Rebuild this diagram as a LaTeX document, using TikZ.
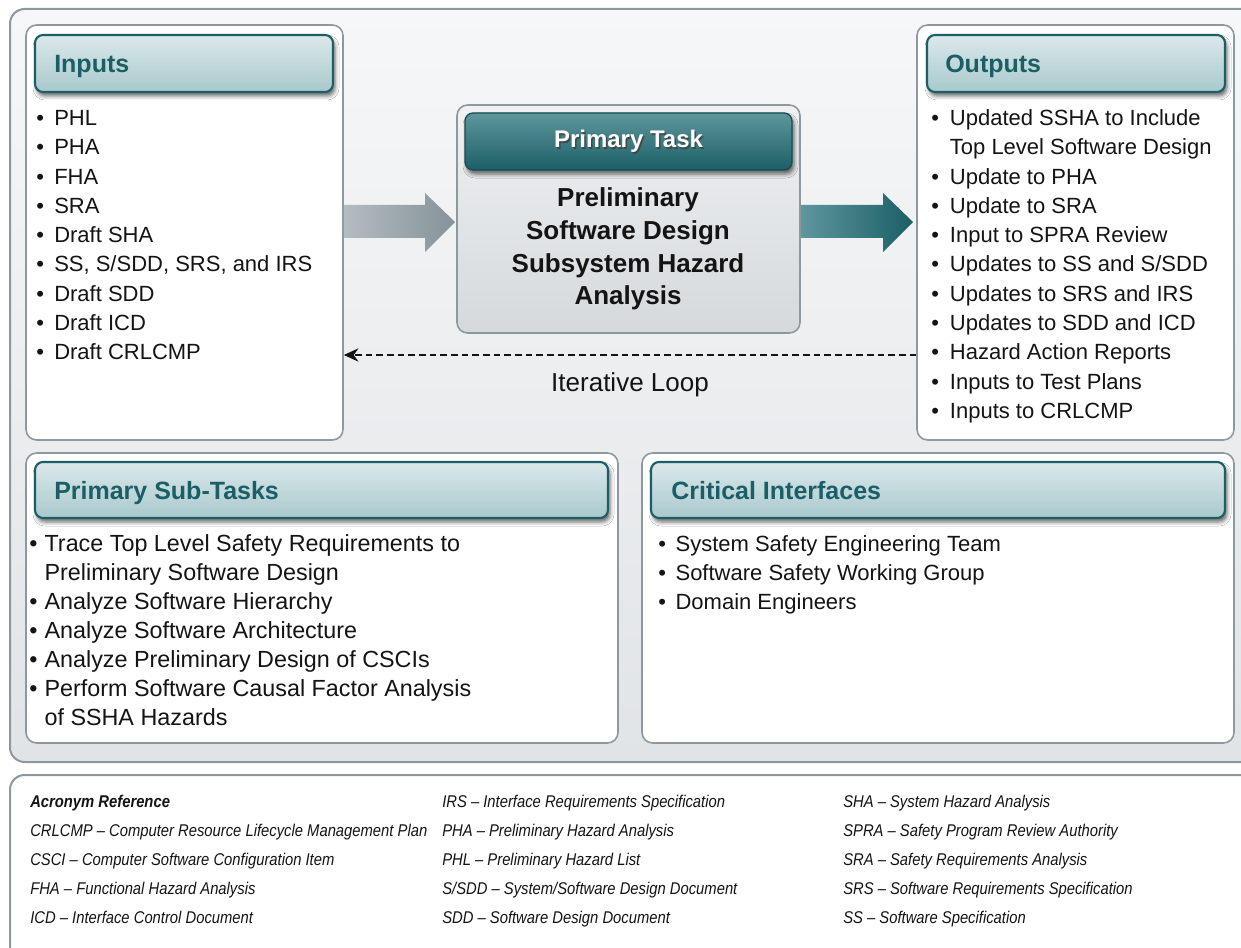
\documentclass[tikz,border=0pt]{standalone}
\usepackage{fontspec}
\setmainfont{Liberation Sans}
\newfontfamily\AcrFamily[FakeStretch=0.87]{Liberation Sans}
\usetikzlibrary{arrows.meta,calc,positioning,fit,shadows.blur}

\definecolor{frameGray}{HTML}{8C979E}
\definecolor{panelGray}{HTML}{8E999F}
\definecolor{bgTop}{HTML}{F6F7F8}
\definecolor{bgBot}{HTML}{E1E4E7}
\definecolor{tabTop}{HTML}{DCE8EA}
\definecolor{tabBot}{HTML}{A8C9CD}
\definecolor{tealDark}{HTML}{1B5F66}
\definecolor{tealMid}{HTML}{5E979C}
\definecolor{taskTop}{HTML}{EFF1F2}
\definecolor{taskBot}{HTML}{D5D9DC}
\definecolor{arrowLight}{HTML}{B3BCC1}
\definecolor{arrowDark}{HTML}{85939A}
\definecolor{ink}{HTML}{141414}

\newcommand{\BodyFont}{\fontsize{16.5}{21.94}\selectfont}
\newcommand{\SubFont}{\fontsize{17.5}{21.94}\selectfont}
\newcommand{\TabFont}{\fontsize{18.75}{22}\selectfont\bfseries}
\newcommand{\TaskFont}{\fontsize{19.5}{24.6}\selectfont\bfseries}
\newcommand{\LoopFont}{\fontsize{19.5}{22}\selectfont}
\newcommand{\AcrFont}{\AcrFamily\itshape\fontsize{12.75}{15}\selectfont}
\newcommand{\Bul}[1]{\makebox[#1][l]{\textbullet}}

\tikzset{
  frame/.style={draw=frameGray, line width=1.5pt, rounded corners=11pt,
    top color=bgTop, bottom color=bgBot},
  panel/.style={draw=panelGray, line width=1.2pt, rounded corners=8pt,
    fill=white, inner sep=0pt},
  tab/.style={draw=tealDark, line width=1.6pt, rounded corners=6pt,
    top color=tabTop, bottom color=tabBot, inner sep=0pt,
    blur shadow={shadow xshift=1.5pt, shadow yshift=-3pt,
      shadow blur radius=3pt, shadow opacity=60}},
  tabtext/.style={font=\TabFont, text=tealDark, anchor=base west, inner sep=0pt},
  item/.style={font=\BodyFont, text=ink, anchor=base west, align=left, inner sep=0pt},
  acr/.style={font=\AcrFont, text=ink, anchor=base west, inner sep=0pt},
  taskbox/.style={draw=panelGray, line width=1.2pt, rounded corners=8pt,
    top color=taskTop, bottom color=taskBot, inner sep=0pt},
  tasktab/.style={draw=tealDark!80!black, line width=1pt, rounded corners=6pt,
    top color=tealMid, bottom color=tealDark, inner sep=0pt,
    blur shadow={shadow xshift=1.5pt, shadow yshift=-3pt,
      shadow blur radius=3pt, shadow opacity=60}},
  loopline/.style={ink, line width=1.1pt, dash pattern=on 5pt off 3pt,
    -{Stealth[length=11pt,width=10pt]}},
}

\begin{document}
\begin{tikzpicture}[x=0.75pt,y=-0.75pt]
  \useasboundingbox (0,0) rectangle (1241,948);
  \clip (0,0) rectangle (1241,948);

  % Frames
  \draw[frame] (10,9) rectangle (1258,762);
  \draw[frame, top color=white, bottom color=white] (10,775) rectangle (1258,965);

  % Inputs
  \node[panel, fit={(26,25) (343,440)}] (inputs) {};
  \node[tab, fit={(35,35) (333,92)}] (inputsTab) {};
  \node[tabtext] (inputsHead) at (54,73) {Inputs};
  \foreach \lab [count=\i from 0] in {PHL, PHA, FHA, SRA, Draft SHA,
      {SS, S/SDD, SRS, and IRS}, Draft SDD, Draft ICD, Draft CRLCMP}
    \node[item] (in\i) at (36,{125.5+29.3*\i}) {\Bul{13.5pt}\lab};

  % Primary task
  \node[taskbox, fit={(457,105) (800,333)}] (task) {};
  \node[tasktab, fit={(465,113) (792,170)}] (taskTab) {};
  \node[font=\fontsize{18}{20}\selectfont\bfseries, text=black!75, opacity=0.8]
    at ($(taskTab.center)+(1.5,1.5)$) {Primary Task};
  \node[font=\fontsize{18}{20}\selectfont\bfseries, text=white] (taskHead)
    at (taskTab.center) {Primary Task};
  \node[font=\TaskFont, text=ink, align=center] (taskBody) at (628,249)
    {Preliminary\\Software Design\\Subsystem Hazard\\Analysis};

  % Block arrows
  \shade[left color=arrowLight, right color=arrowDark]
    (inputs.east |- 0,205) -- (425,205) -- (425,193) -- (455,222)
    -- (425,252) -- (425,238) -- (inputs.east |- 0,238) -- cycle;
  \shade[left color=tealMid, right color=tealDark]
    (task.east |- 0,205) -- (883,205) -- (883,193) -- (913,222)
    -- (883,252) -- (883,238) -- (task.east |- 0,238) -- cycle;

  % Outputs
  \node[panel, fit={(917,25) (1234,440)}] (outputs) {};
  \node[tab, fit={(927,35) (1225,92)}] (outputsTab) {};
  \node[tabtext] (outputsHead) at (945,73) {Outputs};
  \node[item] (out0) at (931,{125.5+29.3})
    {\Bul{14pt}Updated SSHA to Include\\\hspace*{14pt}Top Level Software Design};
  \foreach \lab [count=\i from 2] in {Update to PHA, Update to SRA,
      Input to SPRA Review, Updates to SS and S/SDD, Updates to SRS and IRS,
      Updates to SDD and ICD, Hazard Action Reports, Inputs to Test Plans,
      Inputs to CRLCMP}
    \node[item] (out\i) at (931,{125.5+29.3*\i}) {\Bul{14pt}\lab};

  % Iterative loop
  \coordinate (loopy) at (629,355);
  \draw[loopline] (outputs.west |- loopy) -- (inputs.east |- loopy)
    node[font=\LoopFont, text=ink, pos=0.5, anchor=base, yshift=-27pt, inner sep=0pt]
    (loopLabel) {Iterative Loop};

  % Primary sub-tasks
  \node[panel, fit={(26,453) (618,743)}] (subtasks) {};
  \node[tab, fit={(35,462) (608,518)}] (subtasksTab) {};
  \node[tabtext] (subtasksHead) at (54,499) {Primary Sub-Tasks};
  \node[item, font=\SubFont] (sub0) at (29,{551.5+29}) {\Bul{11.5pt}Trace Top Level Safety Requirements to\\
    \hspace*{11.5pt}Preliminary Software Design};
  \node[item, font=\SubFont] (sub2) at (29,{551.5+29*2}) {\Bul{11.5pt}Analyze Software Hierarchy};
  \node[item, font=\SubFont] (sub3) at (29,{551.5+29*3}) {\Bul{11.5pt}Analyze Software Architecture};
  \node[item, font=\SubFont] (sub4) at (29,{551.5+29*4}) {\Bul{11.5pt}Analyze Preliminary Design of CSCIs};
  \node[item, font=\SubFont] (sub5) at (29,{551.5+29*6}) {\Bul{11.5pt}Perform Software Causal Factor Analysis\\
    \hspace*{11.5pt}of SSHA Hazards};

  % Critical interfaces
  \node[panel, fit={(642,453) (1234,743)}] (critical) {};
  \node[tab, fit={(651,462) (1225,518)}] (criticalTab) {};
  \node[tabtext] (criticalHead) at (671,499) {Critical Interfaces};
  \foreach \lab [count=\i from 0] in {System Safety Engineering Team,
      Software Safety Working Group, Domain Engineers}
    \node[item] (crit\i) at (658,{551.5+29*\i}) {\Bul{13pt}\lab};

  % Acronyms
  \node[acr, font=\AcrFamily\fontsize{12.75}{15}\selectfont\bfseries\itshape]
    (acrHead) at (30,807) {Acronym Reference};
  \foreach \lab [count=\i from 1] in {CRLCMP – Computer Resource Lifecycle Management Plan,
      CSCI – Computer Software Configuration Item, FHA – Functional Hazard Analysis,
      ICD – Interface Control Document}
    \node[acr] (acrA\i) at (30,{807+29*\i}) {\lab};
  \foreach \lab [count=\i from 0] in {IRS – Interface Requirements Specification,
      PHA – Preliminary Hazard Analysis, PHL – Preliminary Hazard List,
      S/SDD – System/Software Design Document, SDD – Software Design Document}
    \node[acr] (acrB\i) at (442,{807+29*\i}) {\lab};
  \foreach \lab [count=\i from 0] in {SHA – System Hazard Analysis,
      SPRA – Safety Program Review Authority, SRA – Safety Requirements Analysis,
      SRS – Software Requirements Specification, SS – Software Specification}
    \node[acr] (acrC\i) at (843,{807+29*\i}) {\lab};
\end{tikzpicture}
\end{document}
